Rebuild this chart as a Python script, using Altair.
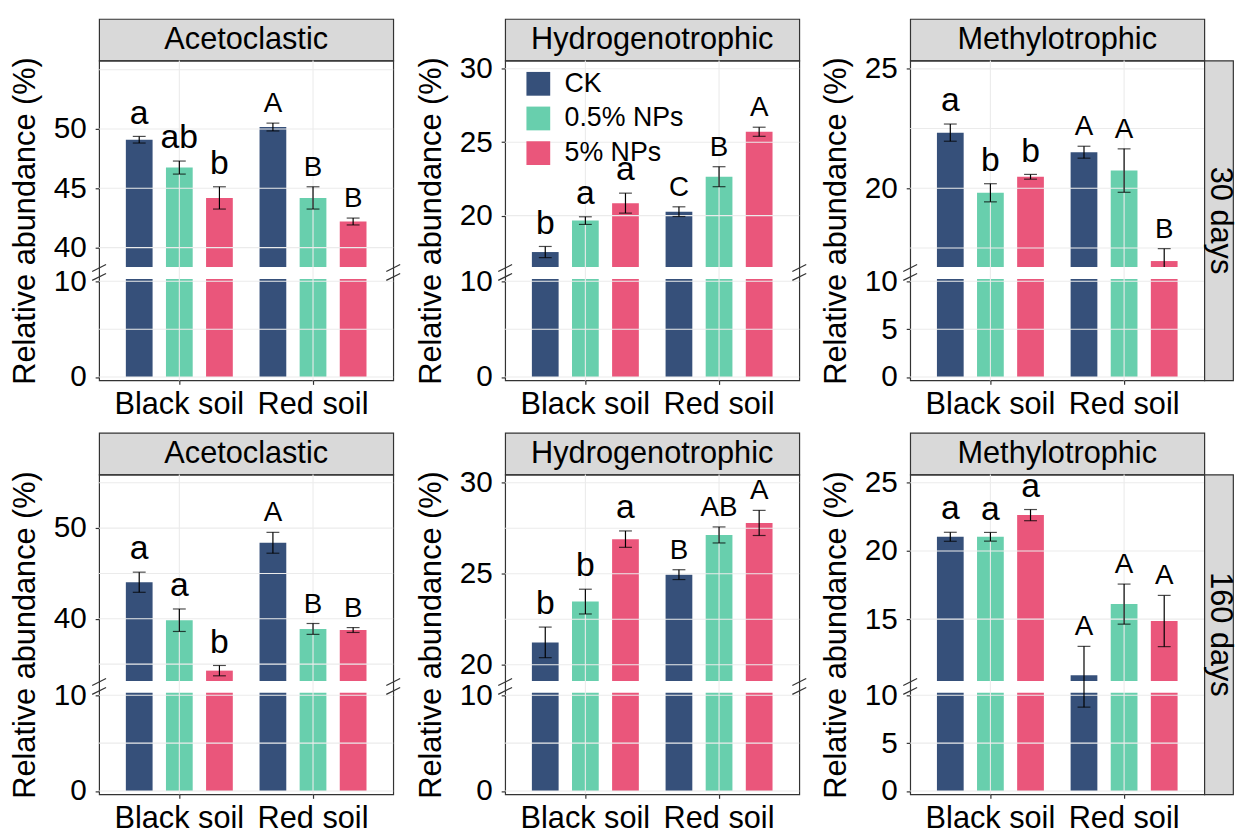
import altair as alt
import pandas as pd

FONT = "Liberation Sans"

soils = ["Black soil", "Red soil"]
treatments = ["CK", "0.5% NPs", "5% NPs"]
colors = ["#36507A", "#68CFAD", "#EA567B"]

# order: Black CK, Black 0.5%, Black 5%, Red CK, Red 0.5%, Red 5%
aceto_30_mean = [49.10, 46.75, 44.19, 50.17, 44.19, 42.20]
aceto_30_se = [0.28, 0.55, 0.94, 0.33, 0.94, 0.29]
aceto_30_letters = ["a", "ab", "b", "A", "B", "B"]

hydro_30_mean = [17.52, 19.66, 20.85, 20.27, 22.65, 25.71]
hydro_30_se = [0.38, 0.26, 0.68, 0.33, 0.68, 0.31]
hydro_30_letters = ["b", "a", "a", "C", "B", "A"]

methyl_30_mean = [22.33, 19.81, 20.48, 21.51, 20.74, 16.95]
methyl_30_se = [0.36, 0.38, 0.10, 0.25, 0.91, 0.52]
methyl_30_letters = ["a", "b", "b", "A", "A", "B"]

aceto_160_mean = [44.03, 39.84, 34.28, 48.38, 38.88, 38.76]
aceto_160_se = [1.11, 1.24, 0.57, 1.15, 0.60, 0.27]
aceto_160_letters = ["a", "a", "b", "A", "B", "B"]

hydro_160_mean = [21.23, 23.47, 26.90, 24.95, 27.13, 27.79]
hydro_160_se = [0.84, 0.68, 0.45, 0.27, 0.44, 0.69]
hydro_160_letters = ["b", "b", "a", "B", "AB", "A"]

methyl_160_mean = [21.04, 21.04, 22.63, 10.88, 16.10, 14.86]
methyl_160_se = [0.33, 0.32, 0.41, 2.12, 1.47, 1.88]
methyl_160_letters = ["a", "a", "a", "A", "A", "A"]

# broken-axis layout: lower part [LO, A_TOP], upper part [b, t]
LO = -0.35
A_TOP = 10.25
W = 297
H = 323
STRIP_H = 42
RANGE = [H, 220.5, 208.5, 0]

panels = [
    dict(title="Acetoclastic", mean=aceto_30_mean, se=aceto_30_se, letters=aceto_30_letters,
         b=38.36, t=55.78, labels=[0, 10, 40, 45, 50], grid=[0, 5, 10, 40, 45, 50, 55]),
    dict(title="Hydrogenotrophic", mean=hydro_30_mean, se=hydro_30_se, letters=hydro_30_letters,
         b=16.50, t=30.56, labels=[0, 10, 20, 25, 30], grid=[0, 5, 10, 20, 25, 30]),
    dict(title="Methylotrophic", mean=methyl_30_mean, se=methyl_30_se, letters=methyl_30_letters,
         b=16.70, t=25.35, labels=[0, 5, 10, 20, 25], grid=[0, 5, 10, 17.5, 20, 22.5, 25]),
    dict(title="Acetoclastic", mean=aceto_160_mean, se=aceto_160_se, letters=aceto_160_letters,
         b=33.14, t=55.91, labels=[0, 10, 40, 50], grid=[0, 5, 10, 35, 40, 45, 50, 55]),
    dict(title="Hydrogenotrophic", mean=hydro_160_mean, se=hydro_160_se, letters=hydro_160_letters,
         b=19.11, t=30.45, labels=[0, 10, 20, 25, 30], grid=[0, 5, 10, 20, 22.5, 25, 27.5, 30]),
    dict(title="Methylotrophic", mean=methyl_160_mean, se=methyl_160_se, letters=methyl_160_letters,
         b=10.46, t=25.61, labels=[0, 5, 10, 15, 20, 25], grid=[0, 5, 10, 15, 20, 25]),
]

GRID_COLOR = "#EBEBEB"
BORDER = "#333333"


def make_plot(p, show_legend, right_break=True):
    b, t = p["b"], p["t"]
    yscale = alt.Scale(domain=[LO, A_TOP, b, t], range=RANGE, zero=False, nice=False)
    xscale = alt.Scale(domain=soils, paddingInner=0, paddingOuter=0.1)
    oscale = alt.Scale(domain=treatments, paddingInner=1 / 3, paddingOuter=1 / 3)
    cscale = alt.Scale(domain=treatments, range=colors)

    bars, errs, caps, txt = [], [], [], []
    i = 0
    for s in soils:
        for tr in treatments:
            m, se, lab = p["mean"][i], p["se"][i], p["letters"][i]
            bars.append(dict(soil=s, treat=tr, y0=0, y1=A_TOP))
            bars.append(dict(soil=s, treat=tr, y0=b, y1=m))
            lo, hi = m - se, m + se
            lo_draw = lo
            if A_TOP < lo < b:
                lo_draw = b
            else:
                caps.append(dict(soil=s, treat=tr, y=lo))
            caps.append(dict(soil=s, treat=tr, y=hi))
            errs.append(dict(soil=s, treat=tr, lo=lo_draw, hi=hi))
            txt.append(dict(soil=s, treat=tr, y=hi, lab=lab, upper=lab.isupper()))
            i += 1

    bars = pd.DataFrame(bars)
    errs = pd.DataFrame(errs)
    caps = pd.DataFrame(caps)
    txt = pd.DataFrame(txt)

    x_axis = alt.Axis(title=None, labelAngle=0, labelAlign="center", labelBaseline="top",
                      tickSize=4, labelPadding=5, domain=False, grid=False,
                      labelFontSize=31, labelFlush=False)
    y_axis = alt.Axis(values=p["labels"], title="Relative abundance (%)",
                      tickSize=4, labelPadding=9, titlePadding=12,
                      labelFontSize=30, titleFontSize=31,
                      labelOverlap=False, labelFlush=False, grid=False, domain=False)

    def xq():
        return alt.X("soil:N", scale=xscale, sort=soils, axis=x_axis)

    def yq(field):
        return alt.Y(field, scale=yscale, axis=y_axis)

    xo_enc = alt.XOffset("treat:N", scale=oscale, sort=treatments)

    hgrid = alt.Chart(pd.DataFrame({"g": p["grid"]})).mark_rule(
        color=GRID_COLOR, strokeWidth=1.1).encode(y=yq("g:Q"))
    vgrid = alt.Chart(pd.DataFrame({"soil": soils})).mark_rule(
        color=GRID_COLOR, strokeWidth=1.1).encode(x=xq())

    if show_legend:
        legend = alt.Legend(title=None, orient="none", legendX=20, legendY=10,
                            symbolType="square", symbolSize=576, symbolStrokeWidth=0,
                            labelFontSize=27, labelFont=FONT, labelColor="black",
                            labelOffset=13, rowPadding=7, padding=0)
    else:
        legend = None

    bar_layer = alt.Chart(bars).mark_bar().encode(
        x=xq(),
        xOffset=xo_enc,
        y=yq("y0:Q"),
        y2="y1:Q",
        color=alt.Color("treat:N", scale=cscale, sort=treatments, legend=legend),
    )

    err_layer = alt.Chart(errs).mark_rule(color="black", strokeWidth=1.2).encode(
        x=xq(), xOffset=xo_enc, y=yq("lo:Q"), y2="hi:Q")
    cap_layer = alt.Chart(caps).mark_tick(color="black", size=13, thickness=1.2,
                                          orient="horizontal").encode(
        x=xq(), xOffset=xo_enc, y=yq("y:Q"))
    lower_txt = alt.Chart(txt[~txt["upper"]]).mark_text(
        fontSize=34, font=FONT, color="black", baseline="alphabetic", dy=-13).encode(
        x=xq(), xOffset=xo_enc, y=yq("y:Q"), text="lab:N")
    upper_txt = alt.Chart(txt[txt["upper"]]).mark_text(
        fontSize=28, font=FONT, color="black", baseline="alphabetic", dy=-11).encode(
        x=xq(), xOffset=xo_enc, y=yq("y:Q"), text="lab:N")

    # break marks on the frame
    brk_rows = [dict(k=0, xa=-7, xb=7, ya=213, yb=206), dict(k=1, xa=-7, xb=7, ya=222, yb=215)]
    if right_break:
        brk_rows += [dict(k=2, xa=W - 7, xb=W + 7, ya=213, yb=206),
                     dict(k=3, xa=W - 7, xb=W + 7, ya=222, yb=215)]
    brk_layers = []
    for r in brk_rows:
        brk_layers.append(
            alt.Chart(pd.DataFrame({"k": [r["k"]]})).mark_rule(color=BORDER, strokeWidth=1.2).encode(
                x=alt.value(r["xa"]), x2=alt.value(r["xb"]),
                y=alt.value(r["ya"]), y2=alt.value(r["yb"]))
        )

    return alt.layer(bar_layer, hgrid, vgrid, err_layer, cap_layer, lower_txt, upper_txt,
                     *brk_layers).properties(width=W, height=H)


def strip(text, w, h, angle=0, dy=0):
    return alt.Chart(pd.DataFrame({"t": [text]})).mark_text(
        fontSize=31, font=FONT, color="black", angle=angle, dy=dy).encode(
        text="t:N").properties(width=w, height=h,
                              view=alt.ViewBackground(fill="#D9D9D9", stroke=BORDER,
                                                      strokeWidth=1.2))


def spacer(w, h):
    return alt.Chart(pd.DataFrame({"v": [0]})).mark_point().encode(
        x=alt.X("v:Q", axis=None), y=alt.Y("v:Q", axis=None)
    ).transform_filter("false").properties(
        width=w, height=h, view=alt.ViewBackground(stroke="transparent", fill="transparent"))


GAP1 = 113
GAP2 = 112
RS_W = 29

cells = [
    strip(panels[0]["title"], W, STRIP_H), spacer(GAP1, 1),
    strip(panels[1]["title"], W, STRIP_H), spacer(GAP2, 1),
    strip(panels[2]["title"], W, STRIP_H), spacer(RS_W, 1),

    make_plot(panels[0], False), spacer(1, 1),
    make_plot(panels[1], True), spacer(1, 1),
    make_plot(panels[2], False, right_break=False), strip("30 days", RS_W, H, angle=90, dy=-1),

    spacer(1, 53), spacer(1, 1), spacer(1, 1), spacer(1, 1), spacer(1, 1), spacer(1, 1),

    strip(panels[3]["title"], W, STRIP_H), spacer(1, 1),
    strip(panels[4]["title"], W, STRIP_H), spacer(1, 1),
    strip(panels[5]["title"], W, STRIP_H), spacer(1, 1),

    make_plot(panels[3], False), spacer(1, 1),
    make_plot(panels[4], False), spacer(1, 1),
    make_plot(panels[5], False, right_break=False), strip("160 days", RS_W, H, angle=90, dy=-1),
]

chart = alt.concat(*cells, columns=6, spacing=0, bounds="flush", align="each").resolve_scale(
    x="independent", y="independent", xOffset="independent", color="independent"
).resolve_legend(color="independent").properties(
    padding={"left": 1, "top": 6, "right": 0, "bottom": 0}
).configure(font=FONT).configure_view(
    stroke=BORDER, strokeWidth=1.2
).configure_axis(
    labelFont=FONT, titleFont=FONT, labelFontSize=30, titleFontSize=31,
    labelColor="black", titleColor="black", titleFontWeight="normal",
    tickColor=BORDER, tickWidth=1.2
)

chart.save("out.html", embed_options={"renderer": "svg", "actions": False})
